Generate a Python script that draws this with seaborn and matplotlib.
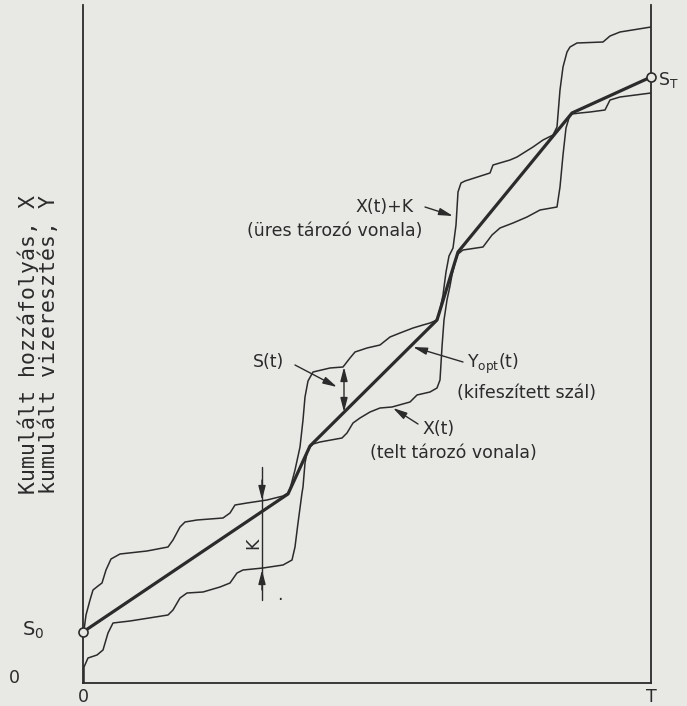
import matplotlib
matplotlib.use("Agg")
import matplotlib.pyplot as plt
import seaborn as sns

# Time runs 0..T_END, cumulative volume 0..V_TOP (arbitrary units)
T_END = 568
V_TOP = 678

# X(t)+K : empty-reservoir line (upper curve)
t_upper = [1, 3, 7, 10, 15, 19, 23, 28, 37, 64, 85, 90, 97, 102, 114, 140, 147, 152, 164, 184,
           200, 205, 207, 212, 217, 220, 222, 225, 230, 247, 260, 267, 272, 284, 297, 307, 317,
           330, 340, 347, 354, 357, 360, 363, 366, 370, 373, 375, 378, 382, 407, 410, 427, 434,
           450, 460, 470, 474, 477, 480, 484, 487, 494, 520, 527, 537, 568]
v_upper = [53, 68, 83, 93, 97, 100, 113, 124, 129, 132, 136, 143, 156, 161, 163, 165, 170, 178,
           180, 183, 187, 190, 194, 213, 236, 263, 286, 302, 311, 315, 316, 325, 331, 335, 338,
           346, 350, 355, 358, 360, 363, 374, 388, 411, 427, 435, 458, 491, 500, 502, 510, 518,
           523, 526, 536, 543, 548, 556, 593, 616, 631, 636, 640, 641, 647, 651, 656]

# X(t) : full-reservoir line (lower curve)
t_lower = [1, 1, 5, 14, 20, 25, 30, 47, 85, 90, 97, 104, 120, 137, 147, 154, 160, 180, 200, 209,
           212, 215, 217, 219, 220, 222, 224, 227, 230, 237, 259, 264, 270, 277, 287, 297, 309,
           327, 334, 347, 354, 357, 359, 361, 364, 367, 369, 372, 375, 380, 400, 409, 417, 430,
           444, 457, 474, 477, 480, 483, 486, 489, 497, 507, 522, 527, 537, 568]
v_lower = [0, 16, 25, 28, 33, 50, 60, 62, 68, 73, 85, 90, 91, 96, 100, 110, 113, 115, 118, 123,
           136, 160, 175, 190, 196, 220, 230, 236, 239, 241, 245, 250, 260, 265, 271, 275, 276,
           281, 288, 291, 295, 303, 336, 363, 383, 397, 408, 420, 429, 433, 436, 448, 455, 460,
           466, 473, 476, 496, 528, 555, 565, 569, 570, 571, 573, 583, 586, 590]

# Y_opt(t) : taut string, from S0 to S_T
t_opt = [0, 205, 227, 354, 375, 489, 568]
v_opt = [51, 189, 237, 363, 431, 570, 606]

# K marker position and the two curve values it spans
k_t = 179
k_top = 183
k_bottom = 113

# S(t) marker position and the two values it spans
s_t = 261
s_top = 316
s_bottom = 271

ink = "#2b2b2b"
bg = "#e8e8e5"

sns.set_theme(style="white")
plt.rcParams["font.family"] = ["DejaVu Sans"]

fig = plt.figure(figsize=(6.87, 7.06), dpi=100, facecolor=bg)
ax = fig.add_axes([83 / 687, 23 / 706, 568 / 687, 678 / 706])
ax.set_facecolor(bg)

sns.lineplot(x=t_upper, y=v_upper, sort=False, estimator=None, color=ink, lw=1.1, ax=ax)
sns.lineplot(x=t_lower, y=v_lower, sort=False, estimator=None, color=ink, lw=1.1, ax=ax)
sns.lineplot(x=t_opt, y=v_opt, sort=False, estimator=None, color=ink, lw=2.3, ax=ax)

# end points S0 and S_T
ax.plot([t_opt[0], t_opt[-1]], [v_opt[0], v_opt[-1]], "o", ms=6.5, mfc=bg, mec=ink,
        mew=1.2, clip_on=False, zorder=5)

ax.set_xlim(0, T_END)
ax.set_ylim(0, V_TOP)
ax.set_xticks([])
ax.set_yticks([])
ax.spines["top"].set_visible(False)
for s in ["left", "bottom", "right"]:
    ax.spines[s].set_color(ink)
    ax.spines[s].set_linewidth(1.3)

fs = 12.5
tk = dict(color=ink, fontsize=fs, clip_on=False)

arrow = dict(arrowstyle="-|>,head_length=0.7,head_width=0.18", color=ink, lw=1.0,
             shrinkA=0, shrinkB=0)

# K dimension
ax.plot([k_t, k_t], [83, 216], color=ink, lw=1.0)
ax.annotate("", xy=(k_t, k_top), xytext=(k_t, k_top + 20), arrowprops=arrow)
ax.annotate("", xy=(k_t, k_bottom), xytext=(k_t, k_bottom - 20), arrowprops=arrow)
ax.text(170, 140, "K", rotation=90, ha="center", va="center", **tk)
ax.text(197, 88, ".", ha="center", va="center", **tk)

# S(t) double arrow
ax.annotate("", xy=(s_t, s_top), xytext=(s_t, s_bottom),
            arrowprops=dict(arrowstyle="<|-|>,head_length=0.7,head_width=0.18", color=ink,
                            lw=1.0, shrinkA=0, shrinkB=0))
ax.annotate("", xy=(254, 296), xytext=(212, 318), arrowprops=arrow)
ax.text(185, 321, "S(t)", ha="center", va="center", **tk)

# X(t)+K label
ax.annotate("", xy=(370, 467), xytext=(342, 476), arrowprops=arrow)
ax.text(302, 476, "X(t)+K", ha="center", va="center", **tk)
ax.text(252, 452, "(üres tározó vonala)", ha="center", va="center", **tk)

# Y_opt label
ax.annotate("", xy=(330, 336), xytext=(380, 321), arrowprops=arrow)
ax.text(384, 319, r"Y$_{\mathrm{opt}}$(t)", ha="left", va="center", **tk)
ax.text(374, 290, "(kifeszített szál)", ha="left", va="center", **tk)

# X(t) label
ax.annotate("", xy=(310, 275), xytext=(335, 259), arrowprops=arrow)
ax.text(339, 254, "X(t)", ha="left", va="center", **tk)
ax.text(287, 230, "(telt tározó vonala)", ha="left", va="center", **tk)

# end-point and axis labels
ax.text(575, 603, r"S$_\mathrm{T}$", ha="left", va="center", **tk)
ax.text(-50, 53, r"S$_\mathrm{0}$", ha="center", va="center", color=ink, fontsize=14,
        clip_on=False)
ax.text(-69, 5, "0", ha="center", va="center", **tk)
ax.text(0, -14, "0", ha="center", va="center", **tk)
ax.text(T_END, -14, "T", ha="center", va="center", **tk)

ylab = dict(rotation=90, ha="center", va="center", color=ink, fontsize=15.5,
            family=["DejaVu Sans Mono"], clip_on=False)
ax.text(-55, 338, "Kumulált hozzáfolyás, X", **ylab)
ax.text(-34, 338, "kumulált vizeresztés, Y", **ylab)

fig.savefig("out.png", dpi=100, facecolor=bg)
